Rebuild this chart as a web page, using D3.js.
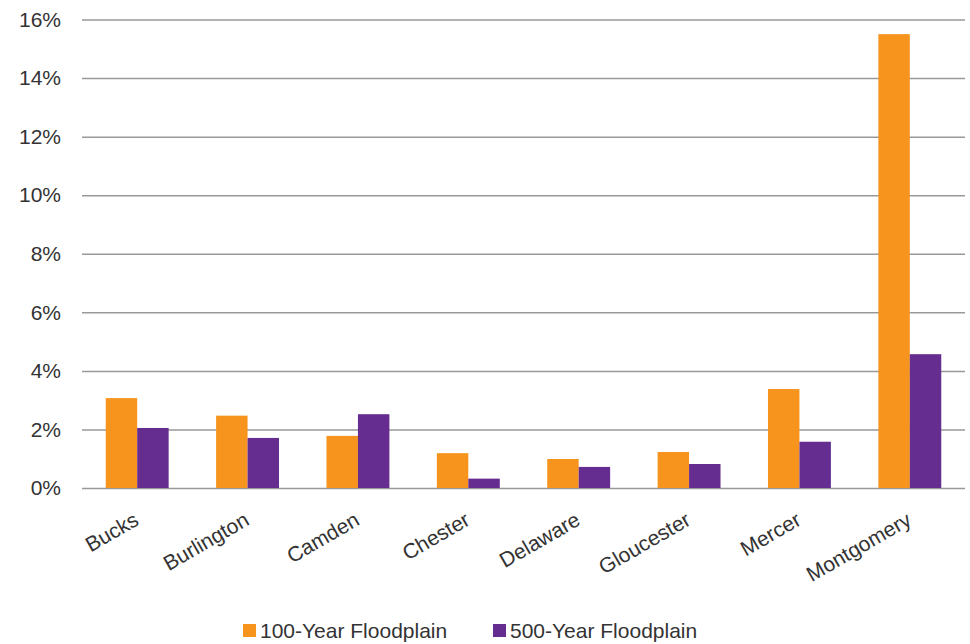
<!DOCTYPE html>
<html lang="en">
<head>
    <meta charset="UTF-8">
    <title>Floodplain share by county</title>
    <script src="https://d3js.org/d3.v7.min.js"></script>
    <style>
        body {
            margin: 0;
            padding: 0;
            background: #fff;
            font-family: "Liberation Sans", Arial, sans-serif;
        }
        .tick text, .legend text {
            fill: #333;
        }
    </style>
</head>
<body>
    <svg class="chart"></svg>
    <script>
        const counties = ["Bucks", "Burlington", "Camden", "Chester", "Delaware", "Gloucester", "Mercer", "Montgomery"];
        const seriesNames = ["100-Year Floodplain", "500-Year Floodplain"];
        const flood100 = [3.07, 2.47, 1.78, 1.19, 0.99, 1.23, 3.38, 15.5];
        const flood500 = [2.05, 1.71, 2.52, 0.32, 0.72, 0.82, 1.58, 4.57];
        const yTicks = [0, 2, 4, 6, 8, 10, 12, 14, 16];
        const colors = ["#F7941D", "#662D91"];

        const width = 970;
        const height = 644;
        const margin = { top: 19.5, right: 5, bottom: 156, left: 82 };

        const svg = d3.select(".chart")
            .attr("width", width)
            .attr("height", height);

        const x = d3.scaleBand()
            .domain(counties)
            .range([margin.left, width - margin.right])
            .paddingInner(0.43)
            .paddingOuter(0.215);

        const xs = d3.scaleBand()
            .domain(seriesNames)
            .range([0, x.bandwidth()]);

        const y = d3.scaleLinear()
            .domain([0, 16])
            .range([height - margin.bottom, margin.top]);

        // gridlines + y labels
        const yAxis = svg.append("g")
            .attr("transform", `translate(${margin.left},0)`)
            .call(d3.axisLeft(y)
                .tickValues(yTicks)
                .tickSize(-(width - margin.right - margin.left))
                .tickPadding(21)
                .tickFormat(d => d + "%"));
        yAxis.select(".domain").remove();
        yAxis.selectAll("line")
            .attr("stroke", "#999")
            .attr("stroke-width", 1.5);
        yAxis.selectAll("text")
            .style("font-size", "21px");

        const rows = counties.map((c, i) => ({ county: c, values: [flood100[i], flood500[i]] }));

        const groups = svg.append("g")
            .selectAll("g")
            .data(rows)
            .enter()
            .append("g")
            .attr("transform", d => `translate(${x(d.county)},0)`);

        groups.selectAll("rect")
            .data(d => d.values.map((v, i) => ({ key: seriesNames[i], value: v, i: i })))
            .enter()
            .append("rect")
            .attr("x", d => xs(d.key))
            .attr("width", xs.bandwidth())
            .attr("y", d => y(d.value))
            .attr("height", d => y(0) - y(d.value))
            .attr("fill", d => colors[d.i]);

        // x labels
        const xAxis = svg.append("g")
            .attr("transform", `translate(0,${height - margin.bottom})`)
            .call(d3.axisBottom(x).tickSize(0).tickPadding(0));
        xAxis.select(".domain").remove();
        xAxis.selectAll("text")
            .style("font-size", "21px")
            .attr("text-anchor", "end")
            .attr("dy", "0")
            .attr("transform", "translate(3,36) rotate(-30)");

        // legend
        const legend = svg.append("g").attr("class", "legend");
        const legendX = [243, 493];
        seriesNames.forEach((name, i) => {
            const g = legend.append("g")
                .attr("transform", `translate(${legendX[i]},624)`);
            g.append("rect")
                .attr("width", 13)
                .attr("height", 13)
                .attr("fill", colors[i]);
            g.append("text")
                .attr("x", 17)
                .attr("y", 14)
                .style("font-size", "21px")
                .text(name);
        });
    </script>
</body>
</html>
